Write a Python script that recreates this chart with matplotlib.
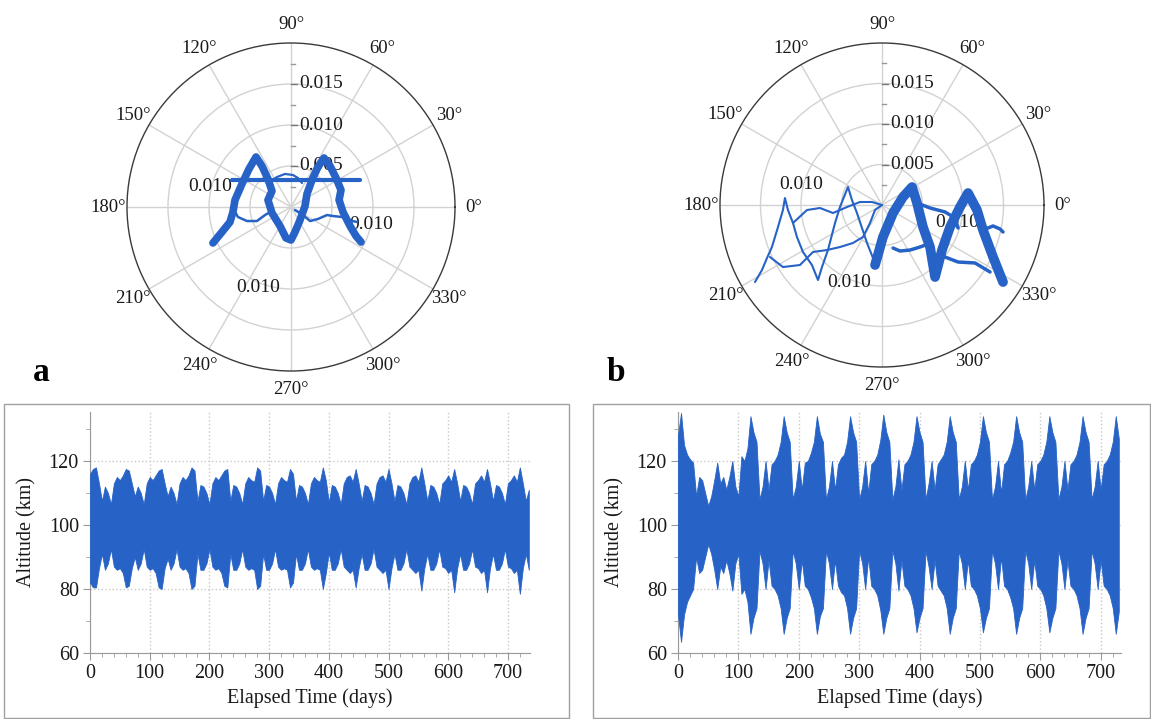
import numpy as np
import matplotlib
matplotlib.use('Agg')
import matplotlib.pyplot as plt
from matplotlib.patches import Rectangle
from matplotlib.ticker import MultipleLocator

plt.rcParams['font.family'] = ['Liberation Serif', 'DejaVu Serif']

BLUE = '#2763c6'
W, H = 1151, 719

# ---------------- altitude envelopes (sampled every 5 days) ----------------
days_a = np.arange(0, 740, 5)
alt_a_hi = [116, 117.5, 118, 113, 107.5, 112, 110, 106.5,
            113, 115, 114, 115.5, 117.5, 117, 113, 109, 112, 110, 106.5,
            113, 115, 114, 115.5, 117, 117.5, 113, 109, 112, 110, 106.5,
            113, 115, 114, 115.5, 118, 117, 107.5, 112.5, 112, 110, 106.5,
            113, 115, 114, 115.5, 117, 117.5, 107.5, 112.5, 112, 110, 106.5,
            113, 115, 114, 113.5, 118, 117, 107.5, 112.5, 112, 110, 106.5,
            113, 115, 114, 113.5, 117.5, 116, 107.5, 112.5, 112, 110, 106.5,
            113, 115, 114, 113.5, 118, 114, 107, 112.5, 112, 110, 106.5,
            113, 115, 115.5, 113.5, 117.5, 113, 107.5, 112.5, 112, 110, 106.5,
            113, 115, 115.5, 113.5, 117.5, 113, 107.5, 112.5, 112, 110, 106.5,
            113, 115, 115.5, 113.5, 118, 113, 107.5, 112.5, 112, 110, 106.5,
            113, 114, 115.5, 113.5, 117.5, 113, 107.5, 112.5, 112, 110, 106.5,
            113, 114, 115.5, 113.5, 117.5, 113, 107.5, 112.5, 112, 110, 106.5,
            113, 114, 115.5, 113.5, 118, 113, 107.5, 111]
alt_a_lo = [82, 80.5, 80.5, 86.5, 91, 86, 88, 92.5,
            87, 86, 86.5, 85, 80.5, 81, 86.5, 90, 86, 88, 92.5,
            87, 86, 86.5, 85, 80.5, 80, 86.5, 89.5, 86, 88, 92.5,
            87, 86, 86.5, 85, 80, 81, 91, 86, 86, 88, 92.5,
            87, 86, 86.5, 85, 81, 80.5, 91, 86, 86, 88, 92.5,
            87, 86, 86.5, 86, 80, 81, 91, 86, 86, 88, 92.5,
            87, 86, 86.5, 86, 80.5, 82, 91, 86, 86, 88, 92.5,
            87, 86, 86.5, 86, 80, 85, 91.5, 86, 86, 88, 92.5,
            87, 86, 85, 86, 80.5, 86.5, 91, 86, 86, 88, 92.5,
            87, 86, 85, 86, 80, 86.5, 91, 86, 86, 88, 92.5,
            87, 86, 85, 86, 79.5, 86.5, 91, 86, 86, 88, 92.5,
            87, 86.5, 85, 86, 79, 86.5, 91, 86, 86, 88, 92.5,
            87, 86.5, 85, 86, 79, 86.5, 91, 86, 86, 88, 92.5,
            87, 86.5, 85, 86, 78.5, 86.5, 91, 86]

days_b = np.arange(0, 735, 5)
alt_b_hi = [128, 135, 125, 122, 120.5, 119.5, 109, 115, 114, 110, 106, 109,
            114, 119.5, 113, 115, 111, 115, 120, 112, 109, 121.5, 120, 124,
            134, 129, 126, 108, 112, 120,
            111, 119, 120, 122, 126, 134, 129, 126, 108, 112, 120,
            111, 119.5, 120, 122.5, 126, 134, 128.5, 126, 108, 112, 120,
            111, 119, 121, 122, 126, 134, 129, 126, 108, 112, 120,
            110, 119, 120, 122, 126.5, 134.5, 129, 126, 108, 112, 120.5,
            111, 119, 120, 122, 126, 134, 129, 126, 108, 113, 120,
            111, 119, 120.5, 122, 126, 134, 129, 126, 108, 112, 120,
            111, 119, 120, 122, 126, 134, 129, 126, 108, 112, 120,
            110, 119, 120, 122.5, 126, 134, 129, 126, 108, 112, 120,
            111, 119, 120, 122, 126, 134, 129, 126, 108, 112, 120,
            111, 119, 120, 122, 126, 134, 129, 126, 108, 112, 120,
            111, 119, 120, 122, 126, 134, 127]
alt_b_lo = [72, 63.5, 72, 76, 78, 80, 90, 85, 86, 90, 94, 91,
            86, 80, 87, 85, 89, 85, 79.5, 88, 91, 78.5, 80, 76,
            66, 71, 74, 92, 88, 80,
            89, 81, 80, 78, 74, 66, 71, 74, 92, 88, 80,
            89, 81, 80, 77.5, 74, 66, 71.5, 74, 92, 88, 80,
            89, 81, 79, 78, 74, 66, 71, 74, 92, 88, 80,
            90, 81, 80, 78, 73.5, 66, 71, 74, 92, 88, 79.5,
            89, 81, 80, 78, 74, 66.5, 71, 74, 92, 87, 80,
            89, 81, 79.5, 78, 74, 66, 71, 74, 92, 88, 80,
            89, 81, 80, 78, 74, 66.5, 71, 74, 92, 88, 80,
            90, 81, 80, 77.5, 74, 66, 71, 74, 92, 88, 80,
            89, 81, 80, 78, 74, 66.5, 71, 74, 92, 88, 80,
            89, 81, 80, 78, 74, 66, 71, 74, 92, 88, 80,
            89, 81, 80, 78, 74, 66, 73]

# ---------------- eccentricity-vector traces (units of 1e-3) ----------------
# panel a
a_bundle_x = [-9.52, -8.42, -7.44, -7.08, -6.83, -5.98, -5.12, -4.27, -3.54, -2.81, -2.32,
              -2.81, -2.32, -1.34, -0.61, 0.0, 0.49, 1.10, 1.71, 1.95, 2.56, 3.29, 4.03,
              4.76, 5.49, 6.10, 5.86, 6.34, 7.20, 7.93, 8.54]
a_bundle_y = [-4.39, -3.05, -1.83, -0.61, 0.85, 2.81, 4.64, 6.10, 5.00, 3.42, 1.95,
              0.85, -0.73, -2.32, -3.78, -4.03, -3.05, -1.59, 0.12, 1.59, 3.29, 4.88, 5.98,
              5.00, 3.54, 2.07, 0.85, -0.61, -2.32, -3.54, -4.27]
a_bar_x = [-7.2, 8.4]
a_bar_y = [3.3, 3.3]
a_waveL_x = [-7.08, -6.47, -5.37, -4.15, -3.17, -2.32]
a_waveL_y = [-0.12, -1.22, -1.71, -1.71, -0.98, -0.49]
a_waveR_x = [0.49, 1.46, 2.32, 3.29, 4.39, 5.12, 6.22, 6.95, 8.05]
a_waveR_y = [-0.37, -0.98, -1.71, -1.46, -0.98, -1.10, -1.22, -1.59, -1.83]
a_arc_x = [-2.56, -1.71, -0.73, 0.24, 0.85, 1.34]
a_arc_y = [3.05, 3.66, 4.03, 3.90, 3.54, 2.93]

# panel b
b_thin1_x = [-15.68, -14.82, -14.20, -13.59, -12.84, -12.23, -11.98, -11.61, -10.99, -10.50,
             -9.76, -8.65, -7.90, -7.41, -6.67, -5.80, -5.19, -4.20, -3.71, -3.09, -2.47,
             -1.85, -1.11]
b_thin1_y = [-9.51, -8.03, -6.55, -5.19, -2.72, -0.62, 0.86, -0.62, -2.22, -3.95,
             -5.80, -7.41, -9.26, -7.66, -5.56, -2.22, -0.25, 2.22, 0.62, -0.99, -2.84,
             -4.69, -6.55]
b_thin2_x = [-13.83, -12.23, -10.13, -8.52, -6.79, -5.19, -3.58, -2.35, -1.48, -0.86, 0.0]
b_thin2_y = [-6.42, -7.66, -7.41, -5.80, -5.56, -5.19, -4.69, -3.95, -2.22, -0.62, 0.0]
b_thin3_x = [-10.99, -9.26, -7.66, -6.05, -4.32, -2.72, -1.24, 0.0]
b_thin3_y = [-2.22, -0.62, -0.37, -0.99, -0.25, 0.37, 0.37, 0.0]
b_bundle_x = [-0.86, 0.12, 1.36, 2.59, 3.71, 4.32, 5.06, 5.93, 6.55, 7.41, 8.40, 9.63,
              10.62, 11.73, 12.47, 13.71, 14.94]
b_bundle_y = [-7.41, -3.95, -0.99, 0.99, 2.22, 0.25, -2.72, -5.19, -8.89, -5.56, -2.72,
              -0.25, 1.48, -0.62, -3.09, -6.42, -9.51]
b_med1_x = [1.36, 2.22, 3.46, 4.69, 5.68]
b_med1_y = [-5.31, -5.68, -5.56, -5.19, -4.82]
b_med2_x = [4.32, 5.93, 7.78, 9.02, 9.39]
b_med2_y = [0.25, -0.37, -0.86, -1.61, -2.84]
b_med3_x = [12.47, 13.71, 14.57, 14.94]
b_med3_y = [-3.09, -2.59, -2.96, -3.33]
b_med4_x = [7.16, 9.39, 11.49, 13.34]
b_med4_y = [-6.18, -7.04, -7.16, -8.27]

angles = list(range(0, 360, 30))
angle_labels = [f'{a}°' for a in angles]
r_ticks = [0.005, 0.010, 0.015]
r_minor = [0.0025, 0.0075, 0.0125, 0.0175]

fig = plt.figure(figsize=(W / 100, H / 100), dpi=100)


def px_rect(left, top, width, height):
    return [left / W, (H - top - height) / H, width / W, height / H]


def polar_panel(cx, cy, R, extra_labels, traces):
    rect = px_rect(cx - R, cy - R, 2 * R, 2 * R)
    ax = fig.add_axes(rect, projection='polar')
    ax.set_ylim(0, 0.02)
    ax.set_yticks(r_ticks)
    ax.set_yticklabels([])
    ax.set_xticks(np.deg2rad(angles))
    ax.set_xticklabels(angle_labels, fontsize=13.5, color='#1a1a1a')
    ax.tick_params(axis='x', pad=3)
    ax.grid(True, color='#d2d2d2', lw=1.0)
    ax.spines['polar'].set_color('#3a3a3a')
    ax.spines['polar'].set_linewidth(1.0)

    axo = fig.add_axes(rect)
    axo.set_xlim(-0.02, 0.02)
    axo.set_ylim(-0.02, 0.02)
    axo.axis('off')
    for r in r_ticks:
        axo.plot([0, 0.0007], [r, r], color='#777777', lw=1, zorder=2)
        axo.text(0.0010, r, f'{r:.3f}', fontsize=14, ha='left', va='center',
                 color='#1a1a1a', zorder=2)
    for r in r_minor:
        axo.plot([0, 0.00045], [r, r], color='#999999', lw=1, zorder=2)
    for (x, y, s) in extra_labels:
        axo.text(x, y, s, fontsize=14, ha='center', va='center', color='#1a1a1a', zorder=2)
    for xs, ys, lw in traces:
        axo.plot(np.array(xs) * 1e-3, np.array(ys) * 1e-3, color=BLUE, lw=lw,
                 solid_joinstyle='round', solid_capstyle='round', zorder=4)
    return ax


polar_panel(291, 207, 164,
            [(-0.0099, 0.0025, '0.010'), (-0.0040, -0.0098, '0.010'), (0.0098, -0.0021, '0.010')],
            [(a_bundle_x, a_bundle_y, 5.5), (a_bar_x, a_bar_y, 3.0),
             (a_waveL_x, a_waveL_y, 1.8), (a_waveR_x, a_waveR_y, 1.8),
             (a_arc_x, a_arc_y, 1.6)])

polar_panel(882, 205, 162,
            [(-0.0100, 0.0025, '0.010'), (-0.0040, -0.0096, '0.010'), (0.0093, -0.0021, '0.010')],
            [(b_thin1_x, b_thin1_y, 1.5), (b_thin2_x, b_thin2_y, 1.5), (b_thin3_x, b_thin3_y, 1.5),
             (b_bundle_x, b_bundle_y, 7.0), (b_med1_x, b_med1_y, 2.5), (b_med2_x, b_med2_y, 2.5),
             (b_med3_x, b_med3_y, 2.5), (b_med4_x, b_med4_y, 2.5)])


def altitude_panel(left, width, days, hi, lo, xmax):
    ax = fig.add_axes(px_rect(left, 411.7, width, 241.3))
    ax.fill_between(days, lo, hi, color=BLUE, lw=0.6, edgecolor=BLUE, zorder=3)
    ax.set_xlim(0, xmax)
    ax.set_ylim(60, 135.4)
    ax.set_xticks(range(0, 701, 100))
    ax.xaxis.set_minor_locator(MultipleLocator(20))
    ax.set_yticks([60, 80, 100, 120])
    ax.yaxis.set_minor_locator(MultipleLocator(10))
    ax.grid(True, which='major', color='#c8c8c8', ls=':', lw=1.0, zorder=0)
    for s in ['top', 'right']:
        ax.spines[s].set_visible(False)
    for s in ['left', 'bottom']:
        ax.spines[s].set_color('#9a9a9a')
    ax.tick_params(which='major', length=5, color='#9a9a9a', labelsize=14.5, pad=3,
                   labelcolor='#1a1a1a')
    ax.tick_params(which='minor', length=3, color='#9a9a9a')
    ax.set_xlabel('Elapsed Time (days)', fontsize=14.5, labelpad=4, color='#1a1a1a')
    ax.set_ylabel('Altitude (km)', fontsize=14.5, labelpad=9, color='#1a1a1a')
    return ax


altitude_panel(90, 440, days_a, alt_a_hi, alt_a_lo, 737)
altitude_panel(678, 442.6, days_b, alt_b_hi, alt_b_lo, 733)

for (x0, y0, x1, y1) in [(4, 404, 569, 718), (593, 404, 1150, 718)]:
    fig.patches.append(Rectangle((x0 / W, (H - y1) / H), (x1 - x0) / W, (y1 - y0) / H,
                                 transform=fig.transFigure, fill=False,
                                 edgecolor='#a0a0a0', lw=1.0))

fig.text(41 / W, (H - 381) / H, 'a', fontsize=24, fontweight='bold', ha='center',
         va='baseline')
fig.text(616 / W, (H - 381) / H, 'b', fontsize=24, fontweight='bold', ha='center',
         va='baseline')

fig.savefig('out.png', dpi=100)
